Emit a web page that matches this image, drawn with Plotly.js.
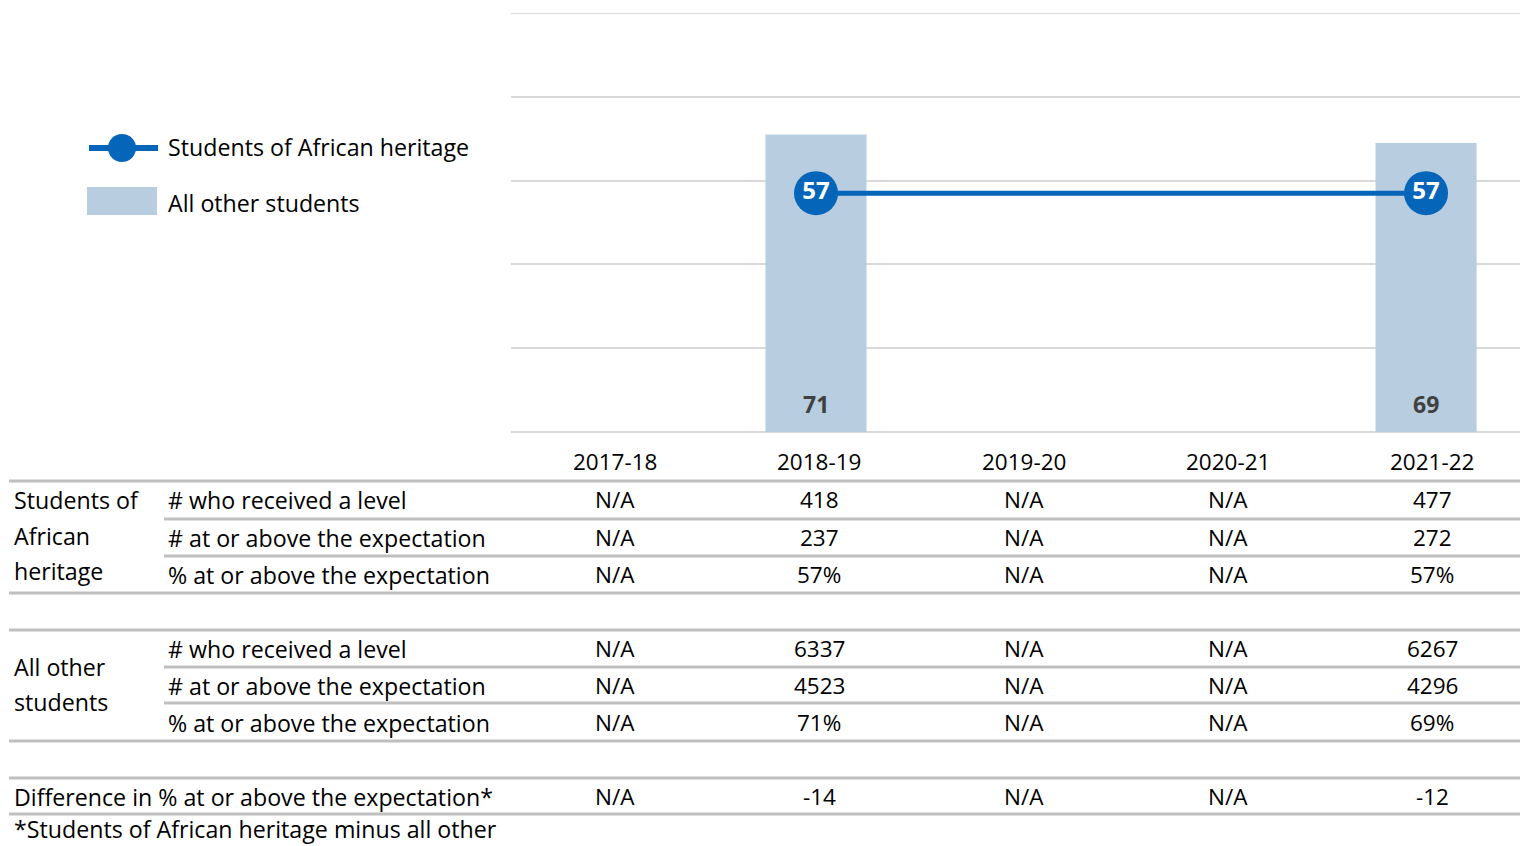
<!DOCTYPE html>
<html>
<head>
<meta charset="utf-8">
<script src="https://cdn.plot.ly/plotly-3.0.1.min.js"></script>
<style>html,body{margin:0;padding:0;background:#fff;}#chart{width:1520px;height:846px;}</style>
</head>
<body>
<div id="chart"></div>
<script>
// ---- data ----
const years = ['2017-18', '2018-19', '2019-20', '2020-21', '2021-22'];
const africanPct = [null, 57, null, null, 57];
const otherPct = [null, 71, null, null, 69];
const africanReceived = [null, 418, null, null, 477];
const africanAtAbove = [null, 237, null, null, 272];
const otherReceived = [null, 6337, null, null, 6267];
const otherAtAbove = [null, 4523, null, null, 4296];
const difference = [null, -14, null, null, -12];
const seriesNames = ['Students of African heritage', 'All other students'];
const rowLabels = ['# who received a level', '# at or above the expectation', '% at or above the expectation'];

// ---- layout helpers (pixel -> paper) ----
const W = 1520, H = 846;
const L = 511, R = 0, T = 13, B = 414;
const PW = W - L - R, PH = H - T - B;
const px = x => (x - L) / PW;
const py = y => (H - B - y) / PH;
const colX = i => px(615 + i * 204.25);   // table column centres

const FONT = 'Open Sans, Noto Sans, sans-serif';
const FS = 22.5;     // numbers
const FSL = 23.2;    // text labels
const BLUE = '#0565b8';
const BARC = '#b8cde0';
const LINEC = '#bfbfbf';

const fmt = v => v === null ? 'N/A' : String(v);
const fmtPct = v => v === null ? 'N/A' : v + '%';

const traces = [
  {
    type: 'bar', x: years, y: otherPct, name: seriesNames[1],
    marker: {color: BARC}, width: 0.497, hoverinfo: 'none', showlegend: false
  },
  {
    type: 'scatter', mode: 'lines+markers+text', x: years, y: africanPct, name: seriesNames[0],
    connectgaps: true,
    line: {color: BLUE, width: 5},
    marker: {color: BLUE, size: 44},
    text: africanPct.map(v => v === null ? '' : String(v)),
    textposition: 'middle center',
    textfont: {family: FONT, size: 24, color: '#ffffff', weight: 'bold'},
    hoverinfo: 'none', showlegend: false
  }
];

const annotations = [];
const shapes = [];

// top gridline (y = 100)
shapes.push({type: 'line', xref: 'paper', yref: 'y', x0: 0, x1: 1, y0: 100, y1: 100,
  line: {color: '#d9d9d9', width: 2}});

// bar value labels at bottom of bars
otherPct.forEach((v, i) => {
  if (v !== null) annotations.push({
    xref: 'x', yref: 'y', x: years[i], y: 0, yshift: 28, xanchor: 'center', yanchor: 'middle',
    text: '<b>' + v + '</b>', showarrow: false,
    font: {family: FONT, size: 23, color: '#404040'}
  });
});

// year header
years.forEach((yr, i) => annotations.push({
  xref: 'paper', yref: 'paper', x: colX(i), y: py(461.5), xanchor: 'center', yanchor: 'middle',
  text: yr, showarrow: false, font: {family: FONT, size: FS, color: '#000'}
}));

// table rows
const rows = [
  {y: 499.5, label: rowLabels[0], vals: africanReceived.map(fmt)},
  {y: 537.5, label: rowLabels[1], vals: africanAtAbove.map(fmt)},
  {y: 574.5, label: rowLabels[2], vals: africanPct.map(fmtPct)},
  {y: 648.5, label: rowLabels[0], vals: otherReceived.map(fmt)},
  {y: 685.5, label: rowLabels[1], vals: otherAtAbove.map(fmt)},
  {y: 722.5, label: rowLabels[2], vals: otherPct.map(fmtPct)},
  {y: 796.5, label: null, vals: difference.map(fmt)}
];
rows.forEach(r => {
  if (r.label) annotations.push({
    xref: 'paper', yref: 'paper', x: px(166), y: py(r.y), xanchor: 'left', yanchor: 'middle',
    text: r.label, showarrow: false, font: {family: FONT, size: FSL, color: '#000'}
  });
  r.vals.forEach((v, i) => annotations.push({
    xref: 'paper', yref: 'paper', x: colX(i), y: py(r.y), xanchor: 'center', yanchor: 'middle',
    text: v, showarrow: false, font: {family: FONT, size: FS, color: '#000'}
  }));
});

// group labels
[['Students of', 499.5], ['African', 535.5], ['heritage', 570.5], ['All other', 666.5], ['students', 701.5],
 ['Difference in % at or above the expectation*', 796.5]].forEach(([t, y]) => annotations.push({
  xref: 'paper', yref: 'paper', x: px(12), y: py(y), xanchor: 'left', yanchor: 'middle',
  text: t, showarrow: false, font: {family: FONT, size: FSL, color: '#000'}
}));
// footnote
annotations.push({xref: 'paper', yref: 'paper', x: px(12), y: py(847), xanchor: 'left', yanchor: 'bottom',
  text: '*Students of African heritage minus all other', showarrow: false,
  font: {family: FONT, size: FSL, color: '#000'}});

// table rules
[[481, 9], [519, 164], [556, 164], [593, 9], [630, 9], [667, 164], [703, 164], [741, 9], [778, 9], [814, 9]]
  .forEach(([y, x0]) => shapes.push({
    type: 'line', xref: 'paper', yref: 'paper', x0: px(x0), x1: px(1520), y0: py(y), y1: py(y),
    line: {color: LINEC, width: 3}
  }));

// legend
shapes.push({type: 'line', xref: 'paper', yref: 'paper', x0: px(89), x1: px(158), y0: py(148), y1: py(148),
  line: {color: BLUE, width: 6}});
shapes.push({type: 'circle', xref: 'paper', yref: 'paper', x0: px(108), x1: px(136), y0: py(134), y1: py(162),
  fillcolor: BLUE, line: {color: BLUE, width: 0}});
shapes.push({type: 'rect', xref: 'paper', yref: 'paper', x0: px(87), x1: px(157), y0: py(187), y1: py(215),
  fillcolor: BARC, line: {width: 0}});
annotations.push({xref: 'paper', yref: 'paper', x: px(166), y: py(146.5), xanchor: 'left', yanchor: 'middle',
  text: seriesNames[0], showarrow: false, font: {family: FONT, size: FSL, color: '#000'}});
annotations.push({xref: 'paper', yref: 'paper', x: px(166), y: py(202.5), xanchor: 'left', yanchor: 'middle',
  text: seriesNames[1], showarrow: false, font: {family: FONT, size: FSL, color: '#000'}});

const layout = {
  width: W, height: H,
  margin: {l: L, r: R, t: T, b: B, pad: 0},
  paper_bgcolor: '#fff', plot_bgcolor: '#fff',
  font: {family: FONT, size: FS, color: '#000'},
  showlegend: false,
  xaxis: {type: 'category', range: [-0.5, 4.462], showticklabels: false, ticks: '', showgrid: false,
    zeroline: false, showline: false, fixedrange: true},
  yaxis: {range: [0, 100], dtick: 20, showticklabels: false, ticks: '', showgrid: true,
    gridcolor: '#d9d9d9', gridwidth: 2, zeroline: true, zerolinecolor: '#d9d9d9', zerolinewidth: 2,
    showline: false, fixedrange: true},
  annotations: annotations,
  shapes: shapes
};

Plotly.newPlot('chart', traces, layout, {displayModeBar: false, staticPlot: true});
</script>
</body>
</html>
